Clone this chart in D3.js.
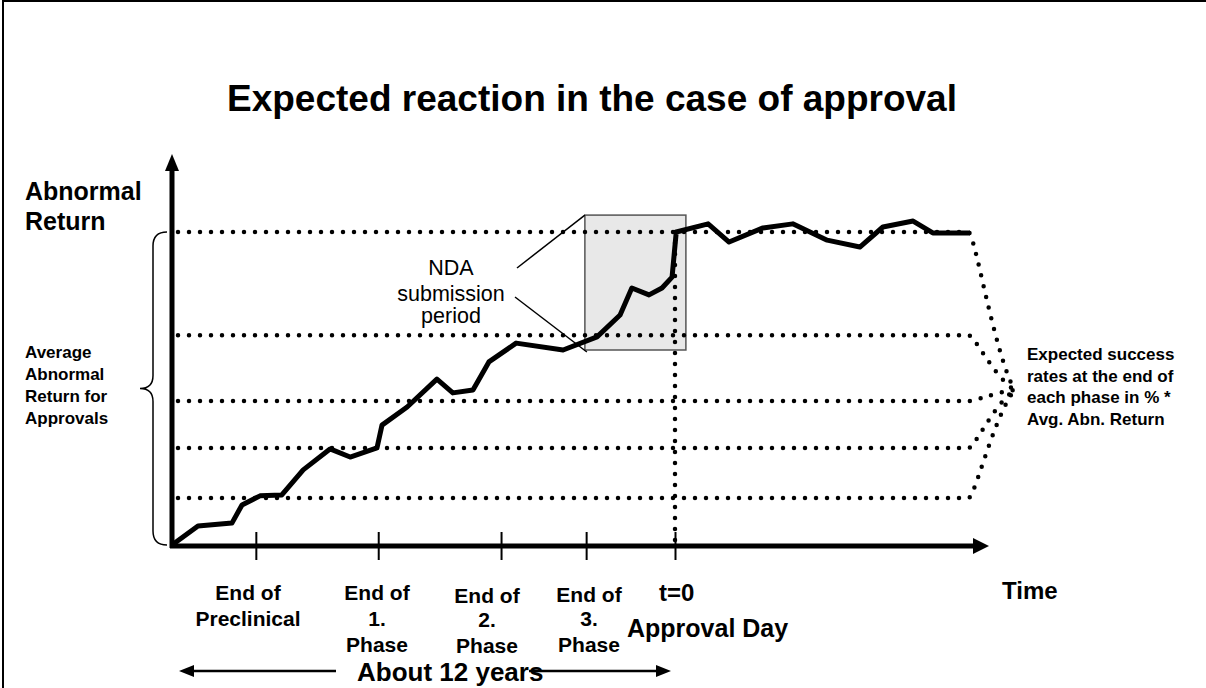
<!DOCTYPE html>
<html>
<head>
<meta charset="utf-8">
<script src="https://cdn.jsdelivr.net/npm/d3@7"></script>
<style>
  html, body { margin: 0; padding: 0; background: #fff; }
  text { font-family: Arial, 'Liberation Sans', sans-serif; fill: #000; }
</style>
</head>
<body>
<div id="chart"></div>
<script>
// time in years relative to approval day (t=0), abnormal return in % of the approval level
const years = [-12, -11.38, -10.57, -10.33, -9.9, -9.38, -8.87, -8.23, -7.75, -7.11, -6.99, -6.39, -5.68, -5.3, -4.82, -4.44, -3.79, -2.67, -1.86, -1.31, -1.03, -0.62, -0.31, -0.07, 0.03, 0.79, 1.29, 2.1, 2.81, 3.63, 4.41, 4.96, 5.68, 6.15, 7.04]
const abnReturn = [0, 6.1, 7.0, 12.8, 15.7, 16.0, 24.0, 30.7, 28.1, 31.0, 38.3, 44.1, 53.0, 48.6, 49.5, 58.5, 64.5, 62.3, 66.5, 73.5, 82.1, 79.9, 82.1, 85.6, 100, 102.6, 96.8, 101.3, 102.6, 97.4, 95.2, 101.6, 103.5, 99.7, 99.7]

// expected success rate at the end of each phase (% of avg. abnormal return)
const successLevels = [15, 31, 46, 67, 100]
const phaseEnds = [-10, -7.08, -4.15, -2.12]
const phaseLabels = [['End of', 'Preclinical'], ['End of', '1.', 'Phase'], ['End of', '2.', 'Phase'], ['End of', '3.', 'Phase']]
const ndaPeriod = [-2.15, 0.26]
const ndaRange = [62.3, 105.4]
const convergePoint = [8.1, 49.5]

const width = 1206, height = 688

const x = d3.scaleLinear().domain([-12, 0]).range([172, 675])
const y = d3.scaleLinear().domain([0, 100]).range([545, 232])

const svg = d3.select('#chart')
  .append('svg')
  .attr('width', width)
  .attr('height', height)

svg.append('rect').attr('width', width).attr('height', height).attr('fill', '#fff')

// frame
svg.append('path')
  .attr('d', `M3,${height} L3,1 L${width},1`)
  .attr('fill', 'none').attr('stroke', '#000').attr('stroke-width', 2)

// title
svg.append('text')
  .attr('x', 592).attr('y', 111)
  .attr('text-anchor', 'middle')
  .style('font-size', '37px').style('font-weight', 'bold')
  .text('Expected reaction in the case of approval')

// NDA submission box
svg.append('rect')
  .attr('x', x(ndaPeriod[0])).attr('y', y(ndaRange[1]))
  .attr('width', x(ndaPeriod[1]) - x(ndaPeriod[0]))
  .attr('height', y(ndaRange[0]) - y(ndaRange[1]))
  .attr('fill', '#e8e8e8').attr('stroke', '#555').attr('stroke-width', 1.5)

// dotted success levels, converging to the right
const dotted = sel => sel.attr('fill', 'none').attr('stroke', '#000')
  .attr('stroke-width', 4.5).attr('stroke-linecap', 'round').attr('stroke-dasharray', '0,11')

successLevels.forEach(L => {
  const p = d3.path()
  p.moveTo(x(-12) + 6, y(L))
  p.lineTo(x(7.0), y(L))
  p.bezierCurveTo(x(7.15), y(L), x(7.6), y(convergePoint[1] + (L - convergePoint[1]) * 0.25),
    x(convergePoint[0]), y(convergePoint[1]))
  svg.append('path').attr('d', p.toString()).call(dotted)
})

// approval day vertical
svg.append('line')
  .attr('x1', x(0)).attr('x2', x(0))
  .attr('y1', y(100)).attr('y2', y(0))
  .call(dotted)

// axes
const xAxis = d3.axisBottom(x).tickValues(phaseEnds.concat([0])).tickSize(28).tickFormat('')
const gx = svg.append('g').attr('transform', 'translate(0,' + (y(0) - 13) + ')').call(xAxis)
gx.select('.domain').remove()
gx.selectAll('.tick line').attr('stroke', '#000').attr('stroke-width', 2)

svg.append('line')
  .attr('x1', x(-12) - 2).attr('x2', 976).attr('y1', y(0) + 1).attr('y2', y(0) + 1)
  .attr('stroke', '#000').attr('stroke-width', 5)
svg.append('path').attr('d', `M973,${y(0) - 7} L989,${y(0) + 1} L973,${y(0) + 9} Z`).attr('fill', '#000')

svg.append('line')
  .attr('x1', x(-12)).attr('x2', x(-12)).attr('y1', y(0) + 3).attr('y2', 168)
  .attr('stroke', '#000').attr('stroke-width', 5)
svg.append('path').attr('d', `M${x(-12) - 7},171 L${x(-12)},154 L${x(-12) + 7},171 Z`).attr('fill', '#000')

// data line
const line = d3.line().x((d, i) => x(years[i])).y(d => y(d))
svg.append('path')
  .attr('d', line(abnReturn))
  .attr('fill', 'none').attr('stroke', '#000').attr('stroke-width', 5)
  .attr('stroke-linejoin', 'round')

// NDA label + pointers
const nda = svg.append('text').attr('text-anchor', 'middle').style('font-size', '21.5px')
;[['NDA', 275], ['submission', 301], ['period', 323]].forEach(([t, by]) => {
  nda.append('tspan').attr('x', 451).attr('y', by).text(t)
})
svg.append('line').attr('x1', 517).attr('y1', 268).attr('x2', x(ndaPeriod[0])).attr('y2', y(ndaRange[1]))
  .attr('stroke', '#000').attr('stroke-width', 1.5)
svg.append('line').attr('x1', 515).attr('y1', 297).attr('x2', x(ndaPeriod[0]) + 2).attr('y2', y(ndaRange[0]) + 2)
  .attr('stroke', '#000').attr('stroke-width', 1.5)

// y axis labels
const yl = svg.append('text').style('font-size', '25px').style('font-weight', 'bold')
yl.append('tspan').attr('x', 25).attr('y', 200).text('Abnormal')
yl.append('tspan').attr('x', 25).attr('y', 230).text('Return')

// brace
const bt = y(100), bb = y(0), bm = (bt + bb) / 2
svg.append('path')
  .attr('d', `M167,${bt} Q153,${bt} 153,${bt + 14} L153,${bm - 13} Q153,${bm} 140,${bm} Q153,${bm} 153,${bm + 13} L153,${bb - 14} Q153,${bb} 167,${bb}`)
  .attr('fill', 'none').attr('stroke', '#000').attr('stroke-width', 1.5)

const bl = svg.append('text').style('font-size', '17px').style('font-weight', 'bold')
;['Average', 'Abnormal', 'Return for', 'Approvals'].forEach((t, i) => {
  bl.append('tspan').attr('x', 25).attr('y', 358 + i * 22).text(t)
})

// right label
const rl = svg.append('text').style('font-size', '17px').style('font-weight', 'bold')
;['Expected success', 'rates at the end of', 'each phase in % *', 'Avg. Abn. Return'].forEach((t, i) => {
  rl.append('tspan').attr('x', 1027).attr('y', 360 + i * 21.5).text(t)
})

// phase labels under the axis
const rowBase = [[600, 626], [600, 626, 652], [603, 627, 653], [602, 626, 652]]
const labelX = [248, 377, 487, 589]
phaseLabels.forEach((lines, j) => {
  const t = svg.append('text').attr('text-anchor', 'middle').style('font-size', '21px').style('font-weight', 'bold')
  lines.forEach((s, i) => t.append('tspan').attr('x', labelX[j]).attr('y', rowBase[j][i]).text(s))
})

svg.append('text').attr('x', 659).attr('y', 601).style('font-size', '24px').style('font-weight', 'bold').text('t=0')
svg.append('text').attr('x', 627).attr('y', 637).style('font-size', '25px').style('font-weight', 'bold').text('Approval Day')
svg.append('text').attr('x', 1002).attr('y', 599).style('font-size', '24px').style('font-weight', 'bold').text('Time')

// "About 12 years" span
const ay = 671
svg.append('line').attr('x1', 190).attr('x2', 336).attr('y1', ay).attr('y2', ay).attr('stroke', '#000').attr('stroke-width', 2.5)
svg.append('path').attr('d', `M179,${ay} L194,${ay - 6} L194,${ay + 6} Z`).attr('fill', '#000')
svg.append('line').attr('x1', 529).attr('x2', 660).attr('y1', ay).attr('y2', ay).attr('stroke', '#000').attr('stroke-width', 2.5)
svg.append('path').attr('d', `M${x(0) - 4},${ay} L${x(0) - 19},${ay - 6} L${x(0) - 19},${ay + 6} Z`).attr('fill', '#000')
svg.append('text').attr('x', 357).attr('y', 681).style('font-size', '26px').style('font-weight', 'bold').text('About 12 years')
</script>
</body>
</html>
